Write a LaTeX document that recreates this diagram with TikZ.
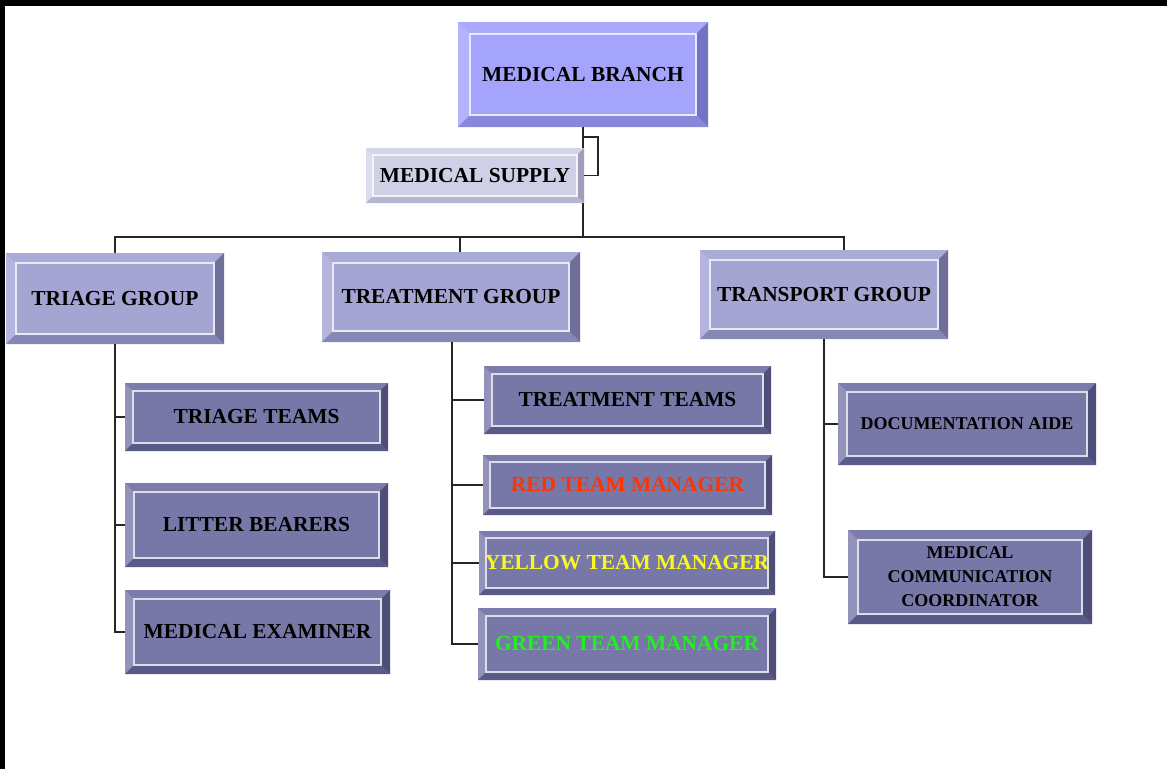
\documentclass[tikz,border=0pt]{standalone}
\usepackage{fontspec}
\setmainfont{Liberation Serif}
\definecolor{brface}{HTML}{A4A4FC}\definecolor{brtop}{HTML}{A9A9FF}\definecolor{brleft}{HTML}{B2B2FF}\definecolor{brright}{HTML}{7474C6}\definecolor{brbot}{HTML}{8888DA}
\definecolor{suface}{HTML}{CFCFE6}\definecolor{sutop}{HTML}{D5D5EA}\definecolor{suleft}{HTML}{DDDDEF}\definecolor{suright}{HTML}{9E9EB8}\definecolor{subot}{HTML}{B6B6CE}
\definecolor{grface}{HTML}{A5A5D3}\definecolor{grtop}{HTML}{AAAAD7}\definecolor{grleft}{HTML}{B4B4DF}\definecolor{grright}{HTML}{6F6F97}\definecolor{grbot}{HTML}{8787B5}
\definecolor{chface}{HTML}{7878A8}\definecolor{chtop}{HTML}{7C7CAC}\definecolor{chleft}{HTML}{9292BA}\definecolor{chright}{HTML}{4E4E78}\definecolor{chbot}{HTML}{5A5A88}
\definecolor{txtred}{HTML}{FF3300}\definecolor{txtyellow}{HTML}{F8F820}\definecolor{txtgreen}{HTML}{22EE22}
\newcommand\bbox[9][]{%
  \pgfmathsetmacro\bbAx{#3+#7}\pgfmathsetmacro\bbAy{#4+#7}%
  \pgfmathsetmacro\bbBx{#5-#7}\pgfmathsetmacro\bbBy{#6-#7}%
  \pgfmathsetmacro\bbCx{(#3+#5)/2}\pgfmathsetmacro\bbCy{(#4+#6)/2}%
  \pgfmathsetmacro\bbW{#5-#3}\pgfmathsetmacro\bbH{#6-#4}%
  \fill[#8face] (#3,#4) rectangle (#5,#6);
  \fill[#8top] (#3,#4) -- (#5,#4) -- (\bbBx,\bbAy) -- (\bbAx,\bbAy) -- cycle;
  \fill[#8left] (#3,#4) -- (\bbAx,\bbAy) -- (\bbAx,\bbBy) -- (#3,#6) -- cycle;
  \fill[#8right] (#5,#4) -- (#5,#6) -- (\bbBx,\bbBy) -- (\bbBx,\bbAy) -- cycle;
  \fill[#8bot] (#3,#6) -- (\bbAx,\bbBy) -- (\bbBx,\bbBy) -- (#5,#6) -- cycle;
  \draw[white!75!#8face, line width=1.2pt] (\bbAx,\bbAy) rectangle (\bbBx,\bbBy);
  \node[lbl, #1, minimum width=\bbW pt, minimum height=\bbH pt] (#2) at (\bbCx,\bbCy) {#9};
}
\begin{document}
\begin{tikzpicture}[x=1pt,y=-1pt,
  lbl/.style={inner sep=0pt, draw=none, align=center, font=\fontsize{21.4}{24}\selectfont\bfseries},
  small/.style={font=\fontsize{18}{24}\selectfont\bfseries},
  conn/.style={draw=black!85, line width=1.6pt}]
\useasboundingbox (0,0) rectangle (1167,769);
\fill[white] (0,0) rectangle (1167,769);
\fill[black] (0,0) rectangle (1167,6);
\fill[black] (0,0) rectangle (5,769);
% boxes
\bbox{branch}{458}{22}{708}{127}{12}{br}{MEDICAL BRANCH}
\bbox{supply}{366}{148}{584}{203}{7}{su}{MEDICAL SUPPLY}
\bbox{triage}{6}{253}{224}{344}{10}{gr}{TRIAGE GROUP}
\bbox{treat}{322}{252}{580}{342}{11}{gr}{TREATMENT GROUP}
\bbox{transport}{700}{250}{948}{339}{10}{gr}{TRANSPORT GROUP}
\bbox{tteams}{125}{383}{388}{451}{8}{ch}{TRIAGE TEAMS}
\bbox{litter}{125}{483}{388}{567}{9}{ch}{LITTER BEARERS}
\bbox{exam}{125}{590}{390}{674}{9}{ch}{MEDICAL EXAMINER}
\bbox{trteams}{484}{366}{771}{434}{8}{ch}{TREATMENT TEAMS}
\bbox[text=txtred]{red}{483}{455}{772}{515}{7}{ch}{RED TEAM MANAGER}
\bbox[text=txtyellow]{yellow}{479}{531}{775}{595}{7}{ch}{YELLOW TEAM MANAGER}
\bbox[text=txtgreen]{green}{478}{608}{776}{680}{8}{ch}{GREEN TEAM MANAGER}
\bbox[small]{doc}{838}{383}{1096}{465}{9}{ch}{DOCUMENTATION AIDE}
\bbox[small]{mcc}{848}{530}{1092}{624}{10}{ch}{MEDICAL\\COMMUNICATION\\COORDINATOR}
% connectors
\coordinate (bus) at (583,237);
\coordinate (brk) at (583,137);
\draw[conn] (branch.south) -- (branch.south |- supply.north);
\draw[conn] (brk) -- ++(15,0) |- (supply.east);
\draw[conn] (bus |- supply.south) -- (bus);
\draw[conn] (triage.north) |- (bus);
\draw[conn] (bus) -| ([xshift=20pt]transport.north);
\draw[conn] ([xshift=9pt]treat.north) |- (bus);
\draw[conn] (triage.south) |- (tteams.west);
\draw[conn] (triage.south) |- (litter.west);
\draw[conn] (triage.south) |- (exam.west);
\draw[conn] ([xshift=1pt]treat.south) |- (trteams.west);
\draw[conn] ([xshift=1pt]treat.south) |- (red.west);
\draw[conn] ([xshift=1pt]treat.south) |- (yellow.west);
\draw[conn] ([xshift=1pt]treat.south) |- (green.west);
\draw[conn] (transport.south) |- (doc.west);
\draw[conn] (transport.south) |- (mcc.west);
\end{tikzpicture}
\end{document}
